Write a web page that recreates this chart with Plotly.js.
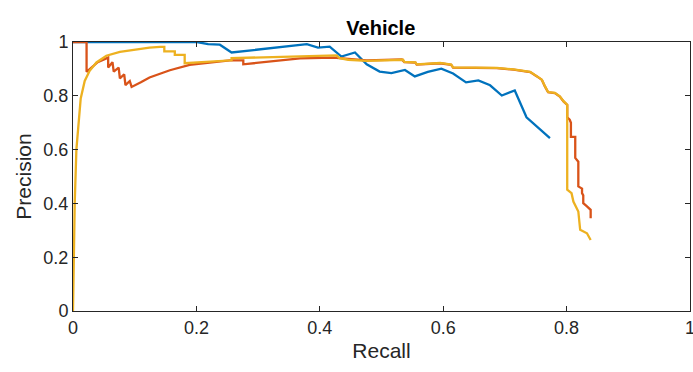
<!DOCTYPE html>
<html>
<head>
<meta charset="utf-8">
<script src="https://cdn.plot.ly/plotly-3.0.1.min.js"></script>
<style>html,body{margin:0;padding:0;background:#fff;}#chart{width:693px;height:372px;}</style>
</head>
<body>
<div id="chart"></div>
<script>
const blueRecall = [0, 0.201, 0.219, 0.238, 0.257, 0.273, 0.297, 0.341, 0.368, 0.379, 0.397, 0.416, 0.435, 0.457, 0.476, 0.497, 0.516, 0.538, 0.554, 0.575, 0.597, 0.616, 0.637, 0.657, 0.676, 0.695, 0.716, 0.735, 0.773];
const bluePrecision = [1, 1, 0.992, 0.990, 0.961, 0.965, 0.973, 0.982, 0.988, 0.992, 0.979, 0.983, 0.946, 0.961, 0.917, 0.890, 0.884, 0.896, 0.872, 0.889, 0.901, 0.883, 0.850, 0.857, 0.839, 0.801, 0.820, 0.720, 0.643];

const orangeRecall = [0, 0.022, 0.022, 0.030, 0.040, 0.057, 0.057, 0.064, 0.066, 0.074, 0.076, 0.083, 0.085, 0.092, 0.095, 0.11, 0.124, 0.157, 0.189, 0.254, 0.276, 0.276, 0.341, 0.368, 0.422, 0.446, 0.476, 0.533, 0.537, 0.555, 0.557, 0.595, 0.613, 0.616, 0.687, 0.714, 0.741, 0.752, 0.760, 0.765, 0.770, 0.781, 0.789, 0.795, 0.801, 0.801, 0.805, 0.807, 0.807, 0.814, 0.814, 0.819, 0.819, 0.825, 0.825, 0.827, 0.827, 0.833, 0.839, 0.839];
const orangePrecision = [1, 1, 0.889, 0.905, 0.925, 0.942, 0.905, 0.925, 0.89, 0.905, 0.865, 0.88, 0.84, 0.855, 0.833, 0.85, 0.868, 0.895, 0.915, 0.932, 0.932, 0.917, 0.934, 0.939, 0.942, 0.937, 0.932, 0.935, 0.925, 0.923, 0.916, 0.921, 0.915, 0.905, 0.903, 0.897, 0.888, 0.872, 0.859, 0.834, 0.813, 0.810, 0.797, 0.779, 0.766, 0.72, 0.711, 0.70, 0.647, 0.647, 0.569, 0.555, 0.463, 0.455, 0.438, 0.43, 0.401, 0.389, 0.376, 0.345];

const yellowRecall = [0, 0.0011, 0.0028, 0.0055, 0.0125, 0.019, 0.027, 0.038, 0.054, 0.076, 0.103, 0.124, 0.141, 0.148, 0.148, 0.165, 0.165, 0.181, 0.181, 0.22, 0.257, 0.257, 0.30, 0.341, 0.40, 0.427, 0.432, 0.446, 0.476, 0.535, 0.537, 0.555, 0.557, 0.595, 0.613, 0.616, 0.687, 0.714, 0.741, 0.752, 0.760, 0.765, 0.770, 0.781, 0.789, 0.795, 0.801, 0.801, 0.808, 0.811, 0.819, 0.822, 0.833, 0.839];
const yellowPrecision = [0, 0.2, 0.402, 0.6, 0.79, 0.855, 0.893, 0.924, 0.949, 0.963, 0.973, 0.979, 0.982, 0.982, 0.965, 0.965, 0.952, 0.952, 0.921, 0.926, 0.932, 0.940, 0.943, 0.946, 0.950, 0.950, 0.940, 0.934, 0.930, 0.934, 0.926, 0.924, 0.917, 0.922, 0.916, 0.906, 0.904, 0.898, 0.889, 0.873, 0.860, 0.835, 0.814, 0.811, 0.798, 0.780, 0.767, 0.451, 0.438, 0.407, 0.370, 0.302, 0.289, 0.264];

const tickVals = [0, 0.2, 0.4, 0.6, 0.8, 1];
const tickText = ['0', '0.2', '0.4', '0.6', '0.8', '1'];

const font = 'Liberation Sans, Arial, Helvetica, sans-serif';
const axisCommon = {
  range: [0, 1],
  tickvals: tickVals,
  ticktext: tickText,
  ticks: 'inside',
  ticklen: 5,
  tickwidth: 1,
  tickcolor: '#262626',
  showline: true,
  linecolor: '#262626',
  linewidth: 1,
  mirror: 'ticks',
  showgrid: false,
  zeroline: false,
  ticklabeloverflow: 'allow',
  tickfont: {family: font, size: 18, color: '#262626'},
  fixedrange: true
};

const traces = [
  {x: blueRecall, y: bluePrecision, mode: 'lines', line: {color: '#0072BD', width: 2.3}, hoverinfo: 'skip'},
  {x: orangeRecall, y: orangePrecision, mode: 'lines', line: {color: '#D95319', width: 2.3}, hoverinfo: 'skip'},
  {x: yellowRecall, y: yellowPrecision, mode: 'lines', line: {color: '#EDB120', width: 2.3}, hoverinfo: 'skip'}
];

const layout = {
  width: 693,
  height: 372,
  margin: {l: 73, r: 3, t: 42, b: 61},
  paper_bgcolor: '#fff',
  plot_bgcolor: '#fff',
  showlegend: false,
  title: {text: '<b>Vehicle</b>', font: {family: font, size: 20, color: '#000'}, x: 0.5495, xanchor: 'center', y: 0.925, yanchor: 'middle'},
  xaxis: Object.assign({}, axisCommon, {title: {text: 'Recall', font: {family: font, size: 21, color: '#262626'}, standoff: 6}}),
  yaxis: Object.assign({}, axisCommon, {title: {text: 'Precision', font: {family: font, size: 21, color: '#262626'}, standoff: 6}})
};

Plotly.newPlot('chart', traces, layout, {displayModeBar: false, staticPlot: true});
</script>
</body>
</html>
